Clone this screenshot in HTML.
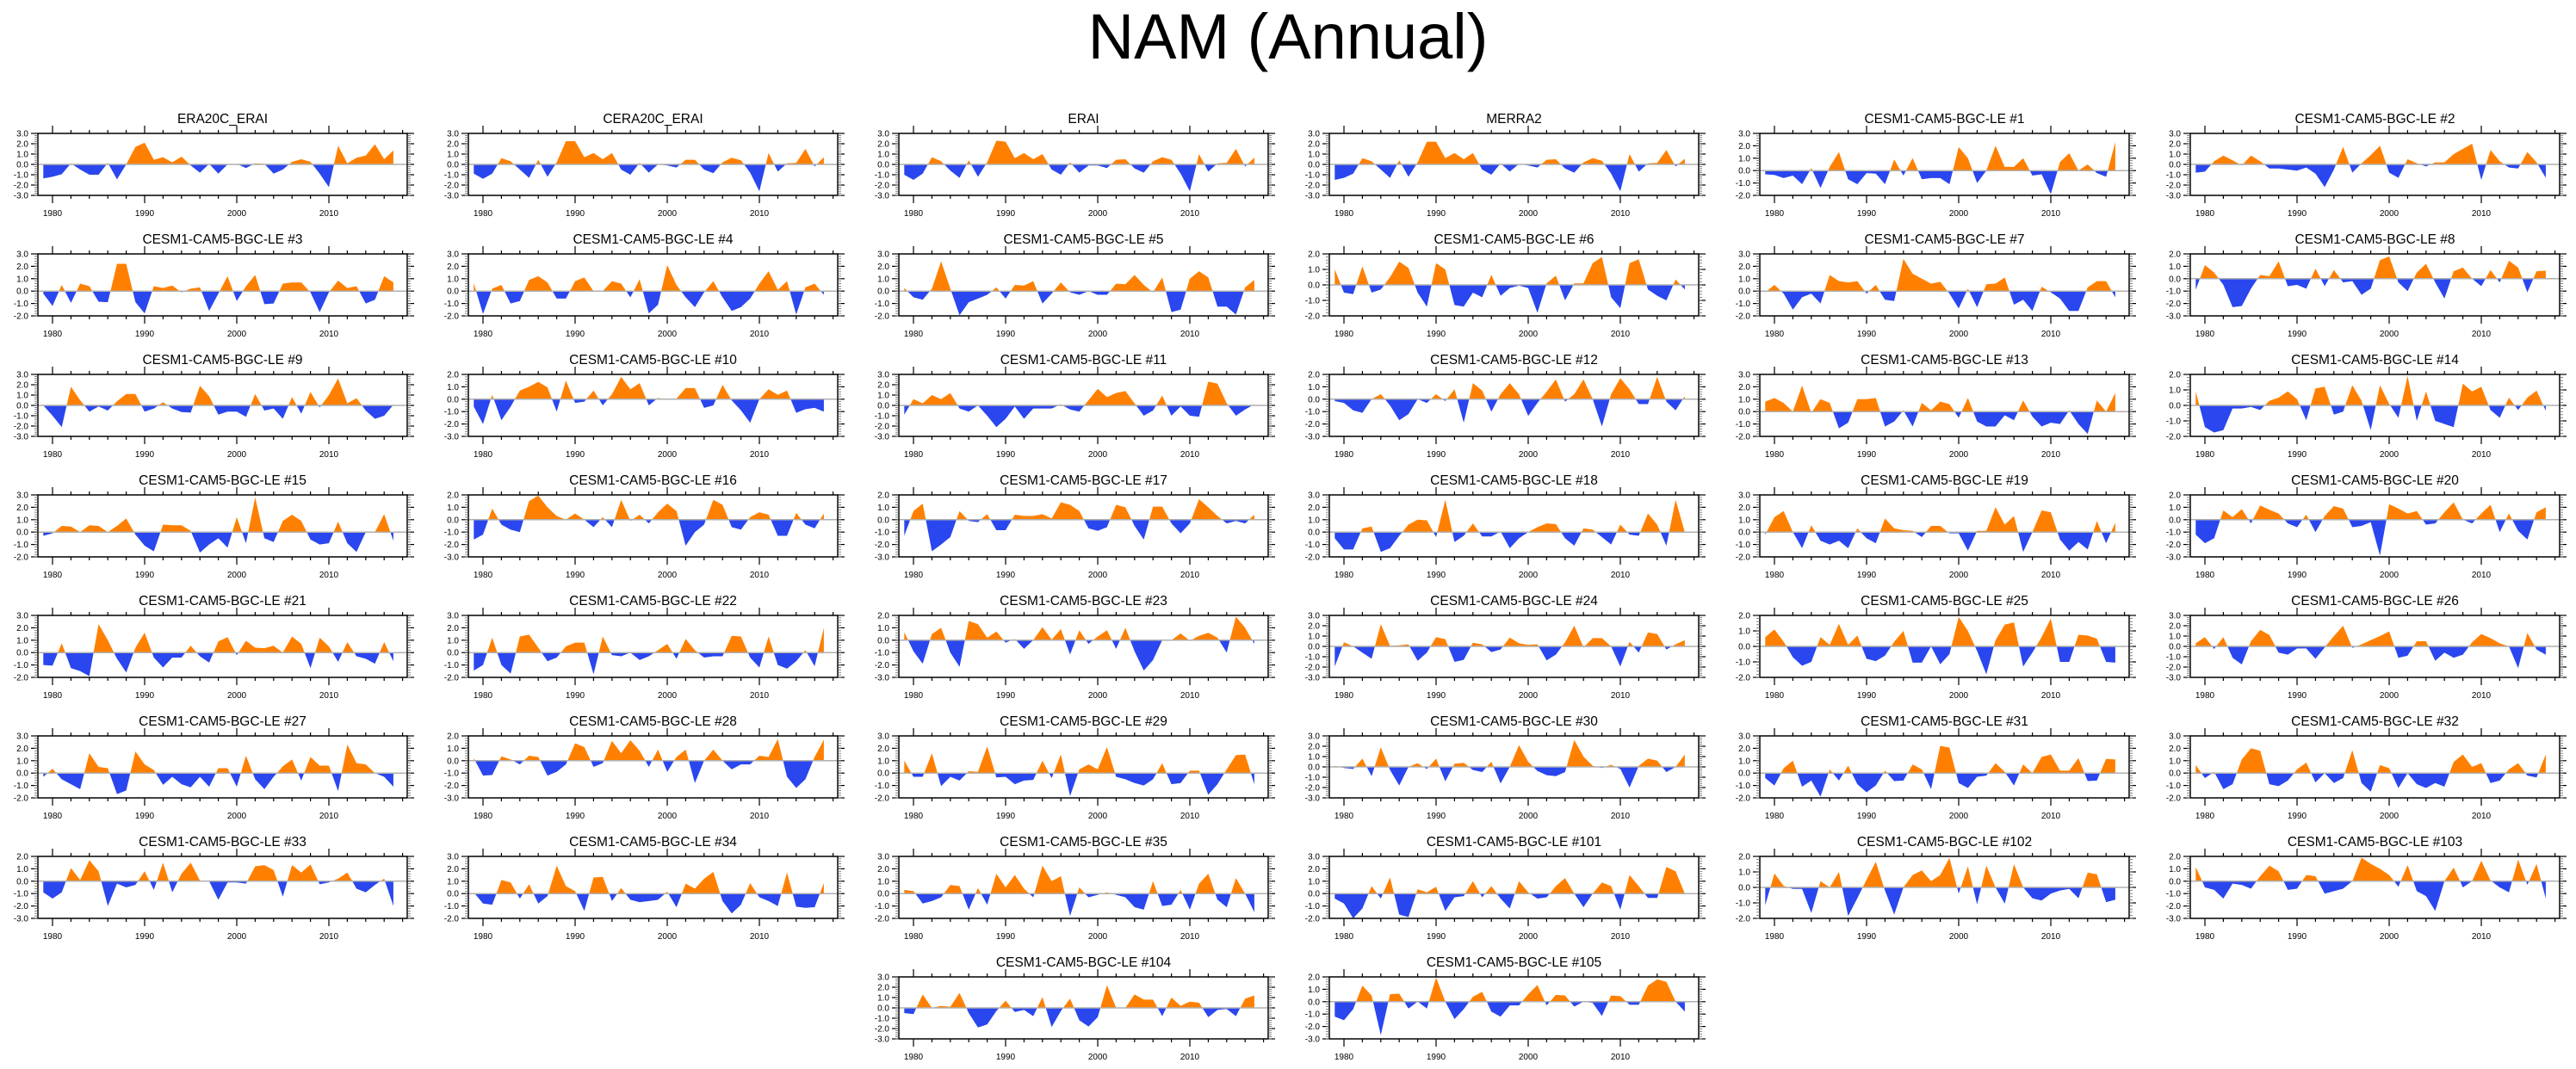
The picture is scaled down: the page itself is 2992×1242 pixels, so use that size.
<!DOCTYPE html>
<html><head><meta charset="utf-8"><style>
html,body{margin:0;padding:0;background:#fff;}
svg{display:block;font-family:"Liberation Sans",Arial,sans-serif;}
</style></head><body>
<svg id="chart" width="2992" height="1242" viewBox="0 0 2992 1242" xmlns="http://www.w3.org/2000/svg">
<rect width="2992" height="1242" fill="#fff"/>
<text x="1496" y="68" text-anchor="middle" font-size="74" fill="#000">NAM (Annual)</text>
</svg>
<script>
const years = [];
for (let y = 1979; y <= 2017; y++) years.push(y);
const panelTitles = ["ERA20C_ERAI","CERA20C_ERAI","ERAI","MERRA2","CESM1-CAM5-BGC-LE #1","CESM1-CAM5-BGC-LE #2",
"CESM1-CAM5-BGC-LE #3","CESM1-CAM5-BGC-LE #4","CESM1-CAM5-BGC-LE #5","CESM1-CAM5-BGC-LE #6","CESM1-CAM5-BGC-LE #7","CESM1-CAM5-BGC-LE #8",
"CESM1-CAM5-BGC-LE #9","CESM1-CAM5-BGC-LE #10","CESM1-CAM5-BGC-LE #11","CESM1-CAM5-BGC-LE #12","CESM1-CAM5-BGC-LE #13","CESM1-CAM5-BGC-LE #14",
"CESM1-CAM5-BGC-LE #15","CESM1-CAM5-BGC-LE #16","CESM1-CAM5-BGC-LE #17","CESM1-CAM5-BGC-LE #18","CESM1-CAM5-BGC-LE #19","CESM1-CAM5-BGC-LE #20",
"CESM1-CAM5-BGC-LE #21","CESM1-CAM5-BGC-LE #22","CESM1-CAM5-BGC-LE #23","CESM1-CAM5-BGC-LE #24","CESM1-CAM5-BGC-LE #25","CESM1-CAM5-BGC-LE #26",
"CESM1-CAM5-BGC-LE #27","CESM1-CAM5-BGC-LE #28","CESM1-CAM5-BGC-LE #29","CESM1-CAM5-BGC-LE #30","CESM1-CAM5-BGC-LE #31","CESM1-CAM5-BGC-LE #32",
"CESM1-CAM5-BGC-LE #33","CESM1-CAM5-BGC-LE #34","CESM1-CAM5-BGC-LE #35","CESM1-CAM5-BGC-LE #101","CESM1-CAM5-BGC-LE #102","CESM1-CAM5-BGC-LE #103",
"CESM1-CAM5-BGC-LE #104","CESM1-CAM5-BGC-LE #105"];
const yMin = [-3,-3,-3,-3,-2,-3, -2,-2,-2,-2,-2,-3, -3,-3,-3,-3,-2,-2, -2,-3,-3,-2,-2,-3, -2,-2,-3,-3,-2,-3, -2,-3,-2,-3,-2,-2, -3,-2,-2,-2,-2,-3, -3,-3];
const yMax = [3,3,3,3,3,3, 3,3,3,2,3,2, 3,2,3,2,3,2, 3,2,2,3,3,2, 3,3,2,3,2,3, 3,2,3,3,3,3, 2,3,3,3,2,2, 3,2];
const series = [
[-1.35,-1.2,-0.95,0.1,-0.5,-1.0,-1.0,0.15,-1.45,0.0,1.7,2.1,0.45,0.7,0.2,0.75,-0.1,-0.8,0.05,-0.9,0.0,0.05,-0.35,0.1,0.05,-0.9,-0.5,0.25,0.5,0.25,-0.9,-2.2,1.8,0.1,0.65,0.85,1.95,0.5,1.35],
[-0.9,-1.4,-0.9,0.6,0.3,-0.5,-1.3,0.45,-1.2,0.2,2.25,2.25,0.7,1.1,0.5,1.1,-0.5,-1.0,0.15,-0.8,0.0,-0.1,-0.3,0.45,0.45,-0.5,-0.85,0.2,0.65,0.4,-0.8,-2.6,1.1,-0.7,0.1,0.15,1.5,-0.2,0.7],
[-1.0,-1.5,-0.9,0.7,0.3,-0.6,-1.3,0.4,-1.2,0.2,2.3,2.2,0.6,1.1,0.5,1.0,-0.5,-1.0,0.2,-0.8,-0.1,-0.1,-0.35,0.45,0.5,-0.4,-0.8,0.3,0.7,0.45,-0.9,-2.6,1.0,-0.7,0.1,0.15,1.5,-0.2,0.65],
[-1.5,-1.3,-0.9,0.6,0.3,-0.5,-1.3,0.4,-1.2,0.2,2.2,2.2,0.6,1.1,0.5,1.1,-0.5,-1.0,0.1,-0.7,0.05,-0.1,-0.3,0.45,0.5,-0.4,-0.8,0.2,0.6,0.35,-0.9,-2.6,1.0,-0.7,0.1,0.15,1.4,-0.2,0.55],
[-0.3,-0.35,-0.6,-0.4,-1.1,0.2,-1.4,0.3,1.5,-0.7,-1.1,-0.2,-0.25,-1.1,0.9,-0.4,1.0,-0.7,-0.6,-0.6,-1.1,1.9,1.0,-1.0,0.0,2.0,0.3,0.3,1.0,-0.4,-0.3,-1.9,0.7,1.4,0.0,0.5,-0.2,-0.5,2.3],
[-0.8,-0.7,0.3,0.85,0.4,-0.1,0.85,0.3,-0.4,-0.4,-0.5,-0.6,-0.3,-0.9,-2.2,-0.5,1.7,-0.8,0.1,0.9,1.8,-0.8,-1.3,0.5,0.1,-0.2,0.2,0.2,1.0,1.5,2.0,-1.5,1.4,0.3,-0.3,-0.4,1.2,0.2,-1.3],
[-0.2,-1.2,0.5,-0.95,0.6,0.4,-0.85,-0.9,2.2,2.2,-0.9,-1.8,0.4,0.25,0.45,-0.1,0.2,0.3,-1.6,-0.2,1.2,-0.8,0.4,1.3,-1.05,-1.0,0.6,0.7,0.7,-0.1,-1.7,-0.1,0.85,0.25,0.4,-1.0,-0.7,1.2,0.7],
[0.65,-1.85,0.2,0.5,-1.0,-0.8,0.9,1.2,0.7,-0.6,-0.6,0.8,1.1,0.0,0.0,0.8,0.6,-0.5,0.95,-1.8,-1.1,2.1,0.5,-0.5,-1.3,-0.1,0.8,-0.5,-1.6,-1.3,-0.6,0.6,1.6,0.1,0.8,-1.9,0.3,0.6,-0.3],
[0.25,-0.5,-0.7,0.2,2.4,0.2,-1.95,-0.9,-0.6,-0.3,0.3,-0.6,0.5,0.45,0.8,-1.0,-0.2,0.7,-0.1,-0.3,0.0,-0.3,-0.3,0.6,0.55,1.3,0.5,-0.1,1.1,-1.7,-1.5,1.0,1.6,1.1,-1.25,-1.25,-1.9,0.3,0.9],
[1.0,-0.5,-0.6,1.2,-0.5,-0.3,0.5,1.5,1.1,-0.5,-1.4,1.4,1.0,-1.3,-1.4,-0.5,-0.8,0.65,-0.7,-0.2,-0.05,-0.2,-1.8,0.1,0.6,-1.0,0.1,0.1,1.4,1.8,-0.8,-1.5,1.4,1.65,-0.3,-0.7,-1.0,0.35,-0.3],
[-0.1,0.5,-0.2,-1.5,-0.5,-0.2,-1.0,1.3,0.8,0.7,0.8,-0.2,0.5,-0.7,-0.8,2.6,1.4,1.0,0.6,0.75,-0.2,-1.4,0.2,-1.3,0.55,0.6,1.1,-1.1,-0.7,-1.6,0.35,-0.1,-0.6,-1.6,-1.6,0.3,0.8,0.8,-0.5],
[-0.9,1.1,0.5,-0.5,-2.3,-2.2,-0.8,0.3,0.2,1.4,-0.6,-0.5,-0.8,0.8,-0.6,0.7,-0.3,-0.2,-1.3,-0.8,1.5,1.8,-0.3,-1.0,0.5,1.2,-0.3,-1.6,0.6,0.9,0.0,-0.6,0.7,-0.3,1.45,0.9,-1.1,0.6,0.65],
[0.0,-1.0,-2.1,1.8,0.5,-0.6,-0.1,-0.5,0.4,1.1,1.1,-0.6,-0.3,0.3,-0.3,-0.65,-0.7,1.9,0.9,-0.9,-0.6,-0.6,-1.1,1.1,-0.5,-0.3,-1.3,0.8,-0.8,1.3,-0.2,1.0,2.6,0.2,0.7,-0.5,-1.3,-1.0,0.05],
[-0.6,-2.0,0.35,-1.7,-0.6,0.7,1.0,1.4,0.95,-1.0,1.5,-0.3,-0.2,0.7,-0.5,0.4,1.8,0.8,1.3,-0.5,0.1,-0.05,0.05,0.9,0.9,-0.7,-0.5,1.15,-0.1,-0.9,-1.9,0.0,0.8,0.35,0.7,-1.1,-0.8,-0.7,-1.0],
[-0.9,0.6,0.2,1.0,0.6,1.2,-0.3,-0.6,0.0,-1.0,-2.1,-1.3,-0.1,-1.3,-0.3,-0.3,-0.3,0.1,-0.4,-0.6,0.5,1.6,0.8,1.2,1.4,0.2,-1.0,-0.5,0.95,-1.0,-0.1,-1.0,-1.1,2.3,2.1,0.2,-1.0,-0.4,0.1],
[-0.15,-0.3,-0.9,-1.1,0.0,0.4,-0.5,-1.7,-1.2,0.0,-0.3,0.4,-0.15,0.8,-1.9,1.3,0.7,-1.0,0.4,1.3,0.4,-1.35,-0.3,0.6,1.6,-0.2,0.4,1.6,0.0,-2.2,0.4,1.7,0.8,-0.4,-0.4,1.8,-0.2,-0.9,0.25],
[0.8,1.1,0.7,0.0,2.1,-0.1,1.0,0.7,-1.35,-0.9,1.0,1.0,1.1,-1.2,-0.8,0.1,-1.2,0.7,0.1,0.8,0.6,-0.5,1.1,-0.8,-1.2,-1.2,-0.3,-0.7,0.9,-0.4,-1.2,-0.9,-1.0,0.1,-1.0,-1.8,0.9,0.0,1.5],
[0.9,-1.4,-1.75,-1.6,-0.2,-0.2,-0.1,-0.3,0.3,0.5,0.9,0.4,-0.95,1.1,1.2,-0.6,-0.4,1.3,0.3,-1.6,1.3,0.1,-0.8,1.9,-1.0,0.9,-1.0,-1.2,-1.4,1.4,0.9,1.2,-0.3,-0.8,0.5,-0.3,0.5,0.95,-0.35],
[-0.3,-0.1,0.5,0.45,0.0,0.55,0.5,0.0,0.5,1.1,-0.2,-1.1,-1.55,0.6,0.55,0.55,0.1,-1.65,-1.0,-0.5,-1.25,1.2,-0.9,2.8,-0.5,-0.8,0.9,1.4,0.9,-0.6,-1.0,-0.9,0.85,-0.9,-1.6,0.0,0.0,1.45,-0.7],
[-1.6,-1.2,0.9,-0.4,-0.8,-1.0,1.5,1.95,1.0,0.3,0.0,0.5,0.0,-0.6,0.2,-0.6,1.6,-0.1,0.4,-0.3,0.6,1.3,0.7,-2.1,-1.0,-0.4,1.6,1.2,-0.6,-0.8,0.2,0.6,0.4,-1.3,-1.3,0.55,-0.4,-0.7,0.5],
[-1.3,0.7,1.3,-2.55,-2.0,-1.4,0.7,-0.1,-0.2,0.45,-0.85,-0.85,0.4,0.3,0.3,0.45,0.1,1.4,1.2,0.7,-0.7,-0.9,-0.6,1.2,1.0,-0.5,-1.6,1.05,1.05,-0.3,-1.1,-0.3,1.65,1.0,0.3,-0.3,-0.1,-0.3,0.4],
[-0.5,-1.4,-1.4,0.3,0.45,-1.6,-1.3,-0.3,0.6,1.0,0.95,-0.4,2.6,-0.8,-0.3,0.7,-0.35,-0.35,0.05,-1.3,-0.5,0.0,0.4,0.7,0.65,-0.5,-1.1,0.3,0.2,-0.4,-1.0,0.6,-0.2,-0.3,1.5,0.6,-1.1,2.6,0.0],
[-0.2,1.2,1.7,0.0,-1.3,0.55,-0.7,-1.0,-0.7,-1.3,0.3,-0.5,-0.9,1.1,0.3,0.15,0.1,-0.4,0.5,0.5,-0.1,-0.1,-1.5,0.1,0.1,2.0,0.6,1.3,-1.6,0.0,1.75,1.6,-0.6,-1.5,-0.8,-1.4,0.9,-0.9,0.75],
[-1.2,-1.9,-1.5,0.75,0.2,0.85,-0.3,1.15,0.8,0.5,-0.3,-0.6,0.4,-1.0,0.3,1.1,0.9,-0.6,-0.5,-0.2,-2.9,1.25,0.9,0.5,0.7,-0.4,-0.3,0.6,1.4,0.0,-0.3,0.5,1.2,-1.0,0.5,-0.9,-1.6,0.6,1.0],
[-1.0,-1.05,0.75,-1.25,-1.5,-1.9,2.3,1.0,-0.5,-1.6,0.4,1.6,-0.4,-1.2,-0.4,-0.4,0.55,-0.3,-0.8,0.9,1.25,-0.2,0.95,0.4,0.35,0.55,0.0,1.3,0.7,-1.25,1.2,0.5,-0.75,0.85,-0.3,-0.5,-0.9,0.85,-0.7],
[-1.45,-1.0,1.2,-1.0,-1.7,1.3,1.45,0.4,-0.7,-0.4,0.5,0.8,0.8,-1.75,1.3,-0.2,-0.3,0.0,-0.6,-0.3,0.2,0.7,-0.5,1.1,0.2,-0.4,-0.3,-0.3,1.35,1.3,-0.4,-1.2,1.3,-1.0,-1.3,-0.7,0.2,-1.1,2.0],
[0.65,-0.9,-1.9,0.5,1.0,-1.0,-2.15,1.55,1.3,0.2,0.7,-0.2,0.1,-0.7,0.0,1.05,0.05,0.9,-1.15,0.8,-0.3,0.3,0.8,-0.7,1.0,-0.9,-2.45,-1.6,0.0,0.0,0.55,-0.05,0.35,0.6,0.2,-1.0,1.9,1.0,-0.3],
[-1.95,0.4,0.0,-0.6,-1.2,2.15,0.05,0.1,0.2,-1.4,-0.6,0.9,0.7,-1.5,-1.3,0.35,0.2,-0.55,-0.3,0.85,0.3,0.15,0.2,-1.35,-0.8,0.4,2.0,-0.1,0.8,0.8,0.0,-1.95,0.45,-0.6,1.35,1.2,-0.3,0.2,0.6],
[0.6,1.1,0.3,-0.7,-1.25,-1.0,0.6,0.1,1.45,0.1,0.7,-0.8,-0.95,-0.6,0.3,1.0,-1.05,-1.05,0.0,-1.15,-0.5,1.9,1.0,-0.3,-1.8,0.4,1.4,1.55,-1.3,-0.4,0.6,1.8,-1.0,-1.0,0.75,0.7,0.5,-1.0,-1.05],
[0.3,0.9,-0.25,0.9,-1.1,-1.75,0.5,1.6,1.1,-0.6,-0.8,-0.2,-0.2,-1.2,-0.1,1.0,2.0,-0.15,0.2,0.6,1.0,1.45,-1.1,-0.9,0.5,0.5,-1.4,-0.6,-1.1,-0.8,0.4,1.2,0.8,0.3,0.0,-2.1,1.3,-0.3,-0.8],
[-0.3,0.35,-0.5,-0.9,-1.3,1.6,0.5,0.4,-1.7,-1.4,1.75,0.7,0.25,-0.95,-0.3,-0.9,-1.15,-0.3,-1.1,0.4,0.4,-1.1,1.4,-0.5,-1.3,-0.3,0.55,1.1,-0.6,1.3,0.6,0.6,-1.45,2.3,0.8,0.7,0.0,-0.3,-1.1],
[0.2,-1.2,-1.15,0.35,0.1,-0.3,0.4,0.3,-1.2,-0.9,-0.3,1.4,1.1,-0.5,-0.2,1.6,0.6,1.65,0.8,-0.5,0.9,-0.9,0.3,0.9,-1.8,0.0,0.9,0.0,-0.7,-0.3,-0.3,0.4,0.3,1.75,-1.3,-2.2,-1.5,0.3,1.7],
[1.0,-0.3,-0.3,1.6,-1.05,-0.3,-0.6,0.15,0.1,2.15,-0.35,-0.3,-0.9,-0.6,-0.55,1.0,-0.4,1.5,-1.85,0.3,0.7,0.3,2.1,-0.3,-0.5,-0.8,-1.0,-0.5,0.8,-0.9,-0.8,0.2,0.2,-1.75,-0.9,0.3,1.45,1.5,-0.9],
[0.1,-0.1,-0.2,0.8,-0.9,1.9,-0.3,-1.8,0.0,0.35,-0.2,0.8,-1.4,0.3,0.4,-0.3,-0.5,0.5,-1.6,0.0,2.1,0.5,-0.4,-0.8,-0.9,-0.5,2.6,1.0,0.1,-0.1,0.2,-0.2,-2.0,0.1,0.8,0.6,-0.5,0.0,1.2],
[-0.4,-1.0,0.4,1.0,-1.1,-0.6,-1.9,0.3,-0.6,0.6,-0.9,-1.55,-1.0,0.2,-0.65,-0.6,0.7,0.3,-1.3,2.2,2.05,-0.8,-1.2,-0.3,-0.2,0.8,0.1,-1.0,0.7,0.0,1.3,1.5,0.2,0.2,1.2,-0.65,-0.6,1.15,1.1],
[0.65,-0.4,0.1,-1.3,-0.9,1.1,2.0,1.8,-0.9,-1.05,-0.6,0.3,0.85,-0.75,0.0,-0.8,-0.4,1.85,-0.8,-1.5,0.65,0.4,-1.2,0.0,-0.9,-1.2,-0.8,-1.1,0.9,1.5,0.5,0.8,-0.8,-0.6,0.3,0.8,-0.2,-0.35,1.5],
[-0.9,-1.4,-0.9,1.05,0.1,1.7,0.8,-2.0,-0.2,-0.5,-0.3,0.8,-0.7,1.5,-0.9,0.6,1.5,0.05,0.0,-1.5,-0.1,-0.1,-0.2,1.2,1.3,0.9,-1.25,1.3,0.7,1.35,-0.25,-0.1,0.2,0.7,-0.6,-0.9,-0.3,0.2,-2.0],
[0.1,-0.8,-0.9,1.1,0.9,-0.4,0.75,-0.8,-0.2,2.25,0.6,0.2,-1.4,1.3,1.35,-0.6,0.45,-0.5,-0.7,-0.6,-0.5,0.15,-1.1,0.8,0.4,1.2,1.75,-0.6,-1.6,-0.9,0.85,-0.3,-0.6,-1.0,1.7,-1.05,-1.15,-1.1,0.85],
[0.3,0.2,-0.8,-0.6,-0.3,0.7,0.6,-1.3,0.45,-0.9,1.6,0.5,1.5,0.4,-0.3,2.25,1.0,1.4,-1.8,0.5,-0.3,-0.1,0.1,-0.1,-0.3,-1.1,-1.3,1.0,-1.0,-0.9,0.3,-1.3,0.8,1.6,-0.5,-1.1,1.25,0.0,-1.5],
[-0.4,-0.8,-2.0,-1.2,0.6,-0.4,1.3,-1.7,-1.9,0.35,0.1,0.55,-1.4,-0.3,-0.2,1.0,-0.3,0.6,-0.4,-1.2,1.0,0.1,-0.4,-0.3,0.6,1.25,0.0,-1.1,0.0,0.9,0.6,-1.3,1.5,0.6,-0.35,-0.35,2.15,1.8,0.0],
[-1.15,0.9,0.1,-0.1,-0.1,-1.65,0.4,0.0,1.0,-1.85,-0.7,0.5,1.65,-0.2,-1.75,0.0,0.8,1.1,0.4,0.8,1.9,-0.4,1.35,-1.1,1.4,0.0,-1.05,1.5,0.0,-0.7,-0.85,-0.4,-0.2,-0.1,-0.7,0.95,0.85,-0.95,-0.8],
[1.15,-0.5,-0.7,-1.4,-0.2,-0.3,-0.6,0.4,1.25,0.8,-0.7,-0.6,0.5,0.4,-1.0,-0.8,-0.6,0.0,1.9,1.4,1.0,0.5,-0.45,1.3,-0.8,-1.2,-2.4,0.0,1.1,-0.5,0.0,1.65,0.05,-0.5,-0.9,1.75,-0.3,1.4,-1.4],
[-0.5,-0.6,1.3,0.0,0.2,0.1,1.45,-0.5,-1.9,-1.6,-0.3,0.7,-0.4,-0.2,-0.8,1.05,-1.85,-0.3,0.9,-1.2,-1.8,-0.9,2.2,0.0,0.0,1.3,0.8,0.8,-0.8,1.0,0.2,0.6,0.5,-0.9,-0.2,-0.1,-0.8,0.9,1.2],
[-1.2,-1.5,-0.6,1.3,0.5,-2.7,0.6,0.65,-0.55,0.0,-0.55,1.95,0.0,-1.4,-0.6,0.4,0.8,-0.8,-1.2,-0.3,-0.3,0.6,1.35,-0.3,0.55,0.5,-0.4,0.0,-0.1,-1.15,0.5,0.45,-0.25,-0.25,1.3,1.8,1.6,0.0,-0.8]
];
const yearTicks = [1980,1990,2000,2010];

const NS = "http://www.w3.org/2000/svg";
const svg = document.getElementById("chart");
function mk(tag, attrs, parent) {
  const e = document.createElementNS(NS, tag);
  for (const k in attrs) e.setAttribute(k, attrs[k]);
  (parent || svg).appendChild(e);
  return e;
}
const W = 429, H = 72, PITCHX = 500, PITCHY = 140, LEFT0 = 44, TOP0 = 155;
const ORANGE = "#ff8000", BLUE = "#2a46ee";

series.forEach((vals, i) => {
  let row = Math.floor(i / 6), col = i % 6;
  if (i >= 42) { row = 7; col = 2 + (i - 42); }
  const L = LEFT0 + col * PITCHX, T = TOP0 + row * PITCHY;
  const lo = yMin[i], hi = yMax[i];
  const xs = yr => L + 17 + (yr - 1980) * 10.7;
  const ys = v => T + (hi - v) / (hi - lo) * H;
  const g = mk("g", {});
  
  

  const title = mk("text", {x: L + W / 2, y: T - 12, "text-anchor": "middle", "font-size": 15.5, fill: "#000"}, g);
  title.textContent = panelTitles[i];
  
  

  // build points with zero-crossings
  const pts = [];
  const n = Math.min(vals.length, years.length);
  for (let k = 0; k < n; k++) {
    const yr = years[k], v = vals[k];
    if (k > 0) {
      const pv = vals[k - 1];
      if ((pv > 0 && v < 0) || (pv < 0 && v > 0)) {
        const t = pv / (pv - v);
        pts.push([years[k - 1] + t, 0]);
      }
    }
    pts.push([yr, v]);
  }
  const y0 = ys(0);
  function poly(sign) {
    let d = "M" + xs(pts[0][0]).toFixed(2) + "," + y0.toFixed(2);
    pts.forEach(p => {
      const v = sign > 0 ? Math.max(p[1], 0) : Math.min(p[1], 0);
      d += "L" + xs(p[0]).toFixed(2) + "," + ys(v).toFixed(2);
    });
    d += "L" + xs(pts[pts.length - 1][0]).toFixed(2) + "," + y0.toFixed(2) + "Z";
    return d;
  }
  const pos = mk("path", {d: poly(1), fill: ORANGE}, g);
  
  
  const neg = mk("path", {d: poly(-1), fill: BLUE}, g);
  
  
  const zl = mk("line", {x1: L, x2: L + W, y1: y0, y2: y0, stroke: "#b0b0b0", "stroke-width": 1.5}, g);
  
  

  const box = mk("rect", {x: L, y: T, width: W, height: H, fill: "none", stroke: "#000", "stroke-width": 1.5}, g);
  
  

  // y ticks & labels
  for (let v = hi; v >= lo; v--) {
    const yy = ys(v);
    mk("line", {x1: L - 8, x2: L, y1: yy, y2: yy, stroke: "#000", "stroke-width": 1.2}, g);
    mk("line", {x1: L + W, x2: L + W + 8, y1: yy, y2: yy, stroke: "#000", "stroke-width": 1.2}, g);
    const t = mk("text", {x: L - 11, y: yy + 3.5, "text-anchor": "end", "font-size": 10, fill: "#000"}, g);
    t.textContent = v.toFixed(1);
    
    
  }
  for (let v = lo; v < hi - 0.001; v += 0.2) {
    const yy = ys(v);
    mk("line", {x1: L - 4, x2: L, y1: yy, y2: yy, stroke: "#666", "stroke-width": 0.8}, g);
    mk("line", {x1: L + W, x2: L + W + 4, y1: yy, y2: yy, stroke: "#666", "stroke-width": 0.8}, g);
  }
  // x ticks
  for (let yr = 1980; yr <= 2018; yr += 2) {
    const xx = xs(yr), major = yearTicks.includes(yr);
    const len = major ? 9 : 4;
    mk("line", {x1: xx, x2: xx, y1: T - len, y2: T, stroke: "#000", "stroke-width": 1.2}, g);
    mk("line", {x1: xx, x2: xx, y1: T + H, y2: T + H + len, stroke: "#000", "stroke-width": 1.2}, g);
  }
  yearTicks.forEach(yr => {
    const t = mk("text", {x: xs(yr), y: T + H + 24, "text-anchor": "middle", "font-size": 10, fill: "#000"}, g);
    t.textContent = yr;
    
    
  });
});
</script>
</body></html>
